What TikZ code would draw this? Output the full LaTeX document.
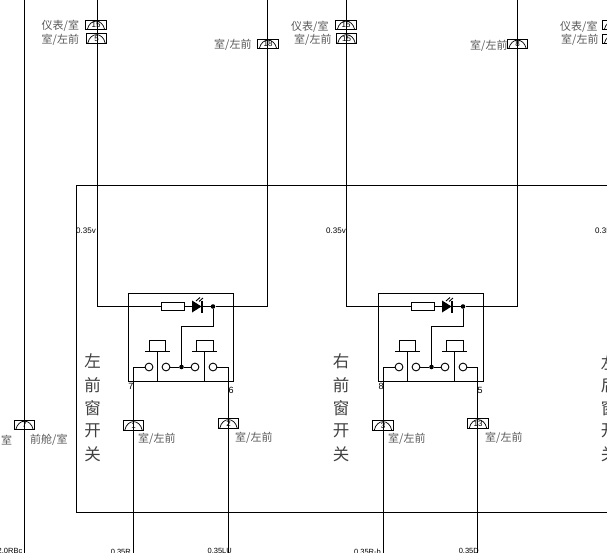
\documentclass[tikz,border=0pt]{standalone}
\usepackage{fontspec}
\setmainfont{Liberation Sans}
\newfontfamily\cjk{Noto Sans CJK SC}
\newlength{\du}
\setlength{\du}{1pt}
\definecolor{labelgray}{rgb}{0.35, 0.35, 0.35}
\definecolor{bigtextgray}{rgb}{0.25, 0.25, 0.25}
\tikzset{
  wire/.style={line width=1pt},
  plug/.style={draw, line width=1.2pt, minimum width=20.5\du, minimum height=9.5\du, inner sep=0pt, font=\fontsize{8}{8}\selectfont,
    path picture={\draw[line width=0.7pt] ([xshift=1.5\du]path picture bounding box.south west) .. controls ([xshift=4\du,yshift=2\du]path picture bounding box.north west) and ([xshift=-4\du,yshift=2\du]path picture bounding box.north east) .. ([xshift=-1.5\du]path picture bounding box.south east);}},
  zhlabel/.style={anchor=west, inner sep=0pt, text=labelgray, font=\cjk\fontsize{11}{11}\selectfont},
  bigchar/.style={inner sep=0pt, text=bigtextgray, font=\cjk\fontsize{16.5}{17}\selectfont},
  gauge/.style={anchor=west, inner sep=0pt, font=\fontsize{8}{8}\selectfont},
  pinno/.style={inner sep=0pt, font=\fontsize{9}{9}\selectfont},
  contact/.style={draw, circle, line width=0.9pt, minimum size=7.8\du, inner sep=0pt},
  joint/.style={fill, circle, minimum size=4.6\du, inner sep=0pt},
  resistor/.style={draw, line width=0.9pt, minimum width=23\du, minimum height=7.5\du, inner sep=0pt}
}

\begin{document}
\begin{tikzpicture}
\pgftransformyscale{-1.000000}
\clip (0\du,0\du) rectangle (607\du,553\du);
% frame
\coordinate (framenw) at (76.5\du,186\du);
\coordinate (framene) at (610\du,186\du);
\coordinate (framesw) at (76.5\du,512\du);
\coordinate (framese) at (610\du,512\du);
\draw[wire] (framene)--(framenw)--(framesw)--(framese);
% supply on the left
\coordinate (supplytop) at (24\du,-2\du);
\coordinate (supplybot) at (24\du,555\du);
\draw[wire] (supplytop)--(supplybot);
\node[plug] (plugseven) at (24.5\du,425\du){7};
\node[zhlabel] (labelroom) at (1\du,440\du){室};
\node[zhlabel] (labelbay) at (30\du,440\du){前舱/室};
\node[anchor=north east, inner sep=0pt, font=\fontsize{7.5}{8}\selectfont] (gaugesupply) at (22.5\du,548\du){2.0RBc};

% left switch
\coordinate (atopl) at (97\du,-2\du);
\coordinate (acornl) at (97\du,306.5\du);
\coordinate (atopr) at (267.5\du,-2\du);
\coordinate (acornr) at (267.5\du,306.5\du);
\node[resistor] (resa) at (173\du,306.5\du){};
\coordinate (diodeaa) at (192\du,306.5\du);
\coordinate (diodeak) at (202\du,306.5\du);
\node[joint] (dotatop) at (213\du,306.5\du){};
\node[joint] (dotamid) at (181.5\du,367\du){};
\node[draw, line width=0.9pt, minimum width=105\du, minimum height=88.5\du, inner sep=0pt] (boxa) at (180.5\du,337.5\du){};
\draw[wire] (atopl)--(acornl)--(resa.west);
\draw[wire] (resa.east)--(diodeaa);
\draw[wire] (diodeak)--(dotatop)--(acornr)--(atopr);
\fill (192\du,300.5\du)--(192\du,312.5\du)--(201.5\du,306.5\du)--cycle;
\draw[line width=1.2pt] (202\du,300.5\du)--(202\du,312.5\du);
\draw[line width=0.9pt] (196\du,301\du)--(200\du,297.5\du) (199\du,301.5\du)--(203\du,298\du);
\node[contact] (cona) at (149\du,367\du){};
\node[contact] (conb) at (166\du,367\du){};
\node[contact] (conc) at (195\du,367\du){};
\node[contact] (cond) at (213\du,367\du){};
\coordinate (pinl) at (133.5\du,367\du);
\coordinate (pinr) at (228.5\du,367\du);
\coordinate (wirealow) at (133.5\du,555\du);
\coordinate (wirearow) at (228.5\du,555\du);
\draw[wire] (cona)--(pinl)--(wirealow);
\draw[wire] (cond)--(pinr)--(wirearow);
\draw[wire] (conb)--(dotamid)--(conc);
\draw[wire] (dotamid)--(181.5\du,326.5\du)--(213\du,326.5\du)--(dotatop);
% push buttons
\draw[wire] (145\du,351\du)--(170\du,351\du) (157\du,351\du)--(157\du,382\du);
\draw[wire] (149\du,351\du)--(149\du,340.5\du)--(165\du,340.5\du)--(165\du,351\du);
\draw[wire] (192\du,351\du)--(217\du,351\du) (204\du,351\du)--(204\du,382\du);
\draw[wire] (196\du,351\du)--(196\du,340.5\du)--(213\du,340.5\du)--(213\du,351\du);
\node[pinno] (pinseven) at (131\du,386\du){7};
\node[pinno] (pinsix) at (231\du,390\du){6};
% left plugs
\node[plug] (plugaa) at (96\du,25\du){15};
\node[plug] (plugab) at (96.5\du,38.5\du){5};
\node[plug] (plugac) at (268\du,44\du){18};
\node[plug] (plugad) at (133.5\du,425.5\du){1};
\node[plug] (plugae) at (228.5\du,423.5\du){2};
\node[zhlabel] (labelaa) at (41.5\du,26\du){仪表/室};
\node[zhlabel] (labelab) at (41.5\du,40\du){室/左前};
\node[zhlabel] (labelac) at (214\du,45\du){室/左前};
\node[zhlabel] (labelad) at (138\du,439\du){室/左前};
\node[zhlabel] (labelae) at (235\du,438\du){室/左前};
\node[gauge] (gaugea) at (76\du,230.5\du){0.35v};
\node[anchor=north east, inner sep=0pt, font=\fontsize{7.5}{8}\selectfont] (gaugeal) at (131\du,549\du){0.35R};
\node[anchor=north east, inner sep=0pt, font=\fontsize{7.5}{8}\selectfont] (gaugear) at (232\du,548\du){0.35LU};
\node[bigchar] (chaa) at (92.5\du,361\du){左};
\node[bigchar] (chab) at (92.5\du,385\du){前};
\node[bigchar] (chac) at (92.5\du,408\du){窗};
\node[bigchar] (chad) at (92.5\du,431\du){开};
\node[bigchar] (chae) at (92.5\du,454\du){关};

% right switch
\coordinate (btopl) at (346.5\du,-2\du);
\coordinate (bcornl) at (346.5\du,306.5\du);
\coordinate (btopr) at (517.5\du,-2\du);
\coordinate (bcornr) at (517.5\du,306.5\du);
\node[resistor] (resb) at (423\du,306.5\du){};
\coordinate (diodeba) at (442\du,306.5\du);
\coordinate (diodebk) at (452\du,306.5\du);
\node[joint] (dotbtop) at (463\du,306.5\du){};
\node[joint] (dotbmid) at (431.5\du,367\du){};
\node[draw, line width=0.9pt, minimum width=105\du, minimum height=88.5\du, inner sep=0pt] (boxb) at (430.5\du,337.5\du){};
\draw[wire] (btopl)--(bcornl)--(resb.west);
\draw[wire] (resb.east)--(diodeba);
\draw[wire] (diodebk)--(dotbtop)--(bcornr)--(btopr);
\fill (442\du,300.5\du)--(442\du,312.5\du)--(451.5\du,306.5\du)--cycle;
\draw[line width=1.2pt] (452\du,300.5\du)--(452\du,312.5\du);
\draw[line width=0.9pt] (446\du,301\du)--(450\du,297.5\du) (449\du,301.5\du)--(453\du,298\du);
\node[contact] (cone) at (399\du,367\du){};
\node[contact] (conf) at (416\du,367\du){};
\node[contact] (cong) at (445\du,367\du){};
\node[contact] (conh) at (463\du,367\du){};
\coordinate (pinbl) at (383.5\du,367\du);
\coordinate (pinbr) at (477.5\du,367\du);
\coordinate (wireblow) at (383.5\du,555\du);
\coordinate (wirebrow) at (477.5\du,555\du);
\draw[wire] (cone)--(pinbl)--(wireblow);
\draw[wire] (conh)--(pinbr)--(wirebrow);
\draw[wire] (conf)--(dotbmid)--(cong);
\draw[wire] (dotbmid)--(431.5\du,326.5\du)--(463\du,326.5\du)--(dotbtop);
% push buttons
\draw[wire] (395\du,351\du)--(420\du,351\du) (407\du,351\du)--(407\du,382\du);
\draw[wire] (399\du,351\du)--(399\du,340.5\du)--(415\du,340.5\du)--(415\du,351\du);
\draw[wire] (442\du,351\du)--(467\du,351\du) (454\du,351\du)--(454\du,382\du);
\draw[wire] (446\du,351\du)--(446\du,340.5\du)--(463\du,340.5\du)--(463\du,351\du);
\node[pinno] (pineight) at (381\du,386\du){8};
\node[pinno] (pinfive) at (480\du,390\du){5};
% right plugs
\node[plug] (plugba) at (346\du,25\du){15};
\node[plug] (plugbb) at (346.5\du,38.5\du){15};
\node[plug] (plugbc) at (517.5\du,44\du){8};
\node[plug] (plugbd) at (383\du,425.5\du){3};
\node[plug] (plugbe) at (478\du,423.5\du){13};
\node[zhlabel] (labelba) at (291\du,27\du){仪表/室};
\node[zhlabel] (labelbb) at (294\du,40\du){室/左前};
\node[zhlabel] (labelbc) at (470\du,45.5\du){室/左前};
\node[zhlabel] (labelbd) at (388\du,439\du){室/左前};
\node[zhlabel] (labelbe) at (485\du,438\du){室/左前};
\node[gauge] (gaugeb) at (326\du,230.5\du){0.35v};
\node[anchor=north east, inner sep=0pt, font=\fontsize{7.5}{8}\selectfont] (gaugebl) at (381\du,549\du){0.35R-b};
\node[anchor=north east, inner sep=0pt, font=\fontsize{7.5}{8}\selectfont] (gaugebr) at (479\du,548\du){0.35D};
\node[bigchar] (chba) at (341\du,361\du){右};
\node[bigchar] (chbb) at (341\du,385\du){前};
\node[bigchar] (chbc) at (341\du,408\du){窗};
\node[bigchar] (chbd) at (341\du,431\du){开};
\node[bigchar] (chbe) at (341\du,454\du){关};

% third switch, cut by the edge
\node[plug] (plugca) at (613\du,25\du){};
\node[plug] (plugcb) at (613\du,39\du){};
\node[zhlabel] (labelca) at (560\du,26.5\du){仪表/室};
\node[zhlabel] (labelcb) at (561\du,40\du){室/左前};
\node[gauge] (gaugec) at (595\du,230.5\du){0.35v};
\node[bigchar] (chca) at (609\du,363\du){左};
\node[bigchar] (chcb) at (609\du,385\du){后};
\node[bigchar] (chcc) at (609\du,408\du){窗};
\node[bigchar] (chcd) at (609\du,431\du){开};
\node[bigchar] (chce) at (609\du,454\du){关};
\end{tikzpicture}
\end{document}
